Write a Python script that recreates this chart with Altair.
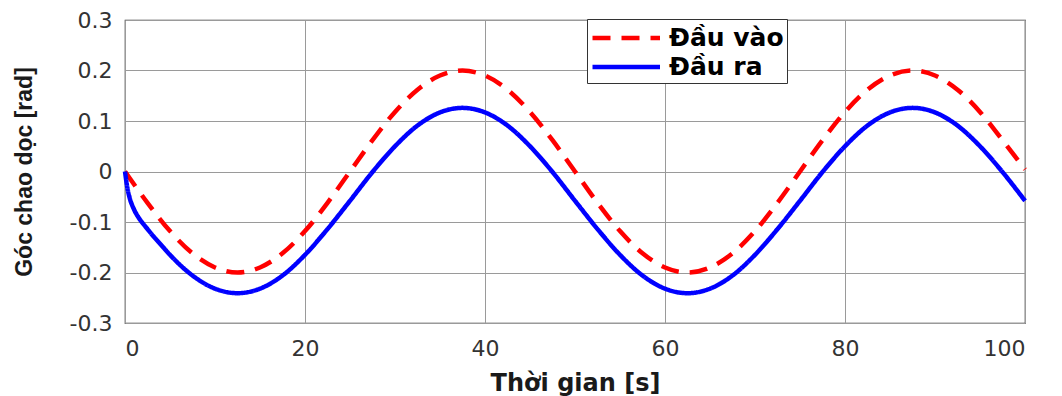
import altair as alt
import pandas as pd

# Time samples [s]
t_in = [0, 2.5, 5, 7.5, 10, 12.5, 15, 17.5, 20, 22.5, 25, 27.5, 30, 32.5, 35, 37.5, 40,
        42.5, 45, 47.5, 50, 52.5, 55, 57.5, 60, 62.5, 65, 67.5, 70, 72.5, 75, 77.5, 80,
        82.5, 85, 87.5, 90, 92.5, 95, 97.5, 100]
# Input (Đầu vào) [rad]
v_in = [0, -0.062, -0.118, -0.162, -0.190, -0.200, -0.190, -0.162, -0.118, -0.062,
        0, 0.062, 0.118, 0.162, 0.190, 0.200, 0.190, 0.162, 0.118, 0.062,
        0, -0.062, -0.118, -0.162, -0.190, -0.200, -0.190, -0.162, -0.118, -0.062,
        0, 0.062, 0.118, 0.162, 0.190, 0.200, 0.190, 0.162, 0.118, 0.062, 0.004]

t_out = [0, 0.25, 0.5, 1, 1.5, 2, 2.5, 3, 4, 5, 7.5, 10, 12.5, 15, 17.5, 20, 22.5, 25,
         27.5, 30, 32.5, 35, 37.5, 40, 42.5, 45, 47.5, 50, 52.5, 55, 57.5, 60, 62.5, 65,
         67.5, 70, 72.5, 75, 77.5, 80, 82.5, 85, 87.5, 90, 92.5, 95, 97.5, 100]
# Output (Đầu ra) [rad]
v_out = [0, -0.031, -0.051, -0.075, -0.091, -0.103, -0.114, -0.125, -0.145, -0.165,
         -0.206, -0.232, -0.241, -0.232, -0.206, -0.165, -0.114, -0.058,
         -0.001, 0.050, 0.091, 0.117, 0.126, 0.117, 0.091, 0.050, -0.001, -0.058,
         -0.114, -0.165, -0.206, -0.232, -0.241, -0.232, -0.206, -0.165, -0.114, -0.058,
         -0.001, 0.050, 0.091, 0.117, 0.126, 0.117, 0.091, 0.050, -0.001, -0.058]

series_names = ["Đầu vào", "Đầu ra"]
series_colors = ["#ff0000", "#0000ff"]

df = pd.concat([
    pd.DataFrame({"t": t_in, "v": v_in, "series": series_names[0]}),
    pd.DataFrame({"t": t_out, "v": v_out, "series": series_names[1]}),
])

x_ticks = [0, 20, 40, 60, 80, 100]
y_ticks = [-0.3, -0.2, -0.1, 0, 0.1, 0.2, 0.3]

label_expr = ("datum.value == 0 ? '0' : (datum.value < 0 ? '-' + format(-datum.value, '.1f') "
              ": format(datum.value, '.1f'))")

chart = alt.Chart(df).mark_line(strokeWidth=4.5, interpolate="monotone").encode(
    x=alt.X("t:Q", scale=alt.Scale(domain=[0, 100], nice=False),
            axis=alt.Axis(values=x_ticks, title="Thời gian [s]", format="d")),
    y=alt.Y("v:Q", scale=alt.Scale(domain=[-0.3, 0.3], nice=False),
            axis=alt.Axis(values=y_ticks, title="Góc chao dọc [rad]", labelExpr=label_expr)),
    color=alt.Color("series:N", title=None,
                    scale=alt.Scale(domain=series_names, range=series_colors),
                    legend=alt.Legend(orient="none", legendX=462, legendY=-1)),
    strokeDash=alt.StrokeDash("series:N", title=None,
                              scale=alt.Scale(domain=series_names, range=[[18, 11], [1, 0]])),
    order=alt.Order("t:Q"),
).properties(
    width=900, height=303,
    autosize=alt.AutoSizeParams(type="none"),
    padding={"left": 117, "top": 12, "right": 28, "bottom": 78},
).configure_view(
    stroke="#333333", strokeWidth=1.2
).configure_axis(
    grid=True, gridColor="#9a9a9a", gridWidth=1,
    domain=False, ticks=False,
    labelFont="DejaVu Sans", labelFontSize=22, labelColor="#333333",
    titleColor="#1a1a1a", titleFontWeight="bold",
).configure_axisX(
    labelPadding=15, titleFont="DejaVu Sans", titleFontSize=24, titlePadding=12,
).configure_axisY(
    labelPadding=13, titleFont="Liberation Sans", titleFontSize=23, titlePadding=33,
).configure_legend(
    strokeColor="#333333", fillColor="white", padding=3, cornerRadius=0,
    labelFont="DejaVu Sans", labelFontSize=25, labelFontWeight="bold", labelColor="black",
    symbolType="M-1,0H4", symbolSize=729, symbolStrokeWidth=4.5, labelOffset=47,
    rowPadding=0, labelLimit=300,
)

chart.save("out.html", embed_options={"renderer": "svg", "actions": False})
